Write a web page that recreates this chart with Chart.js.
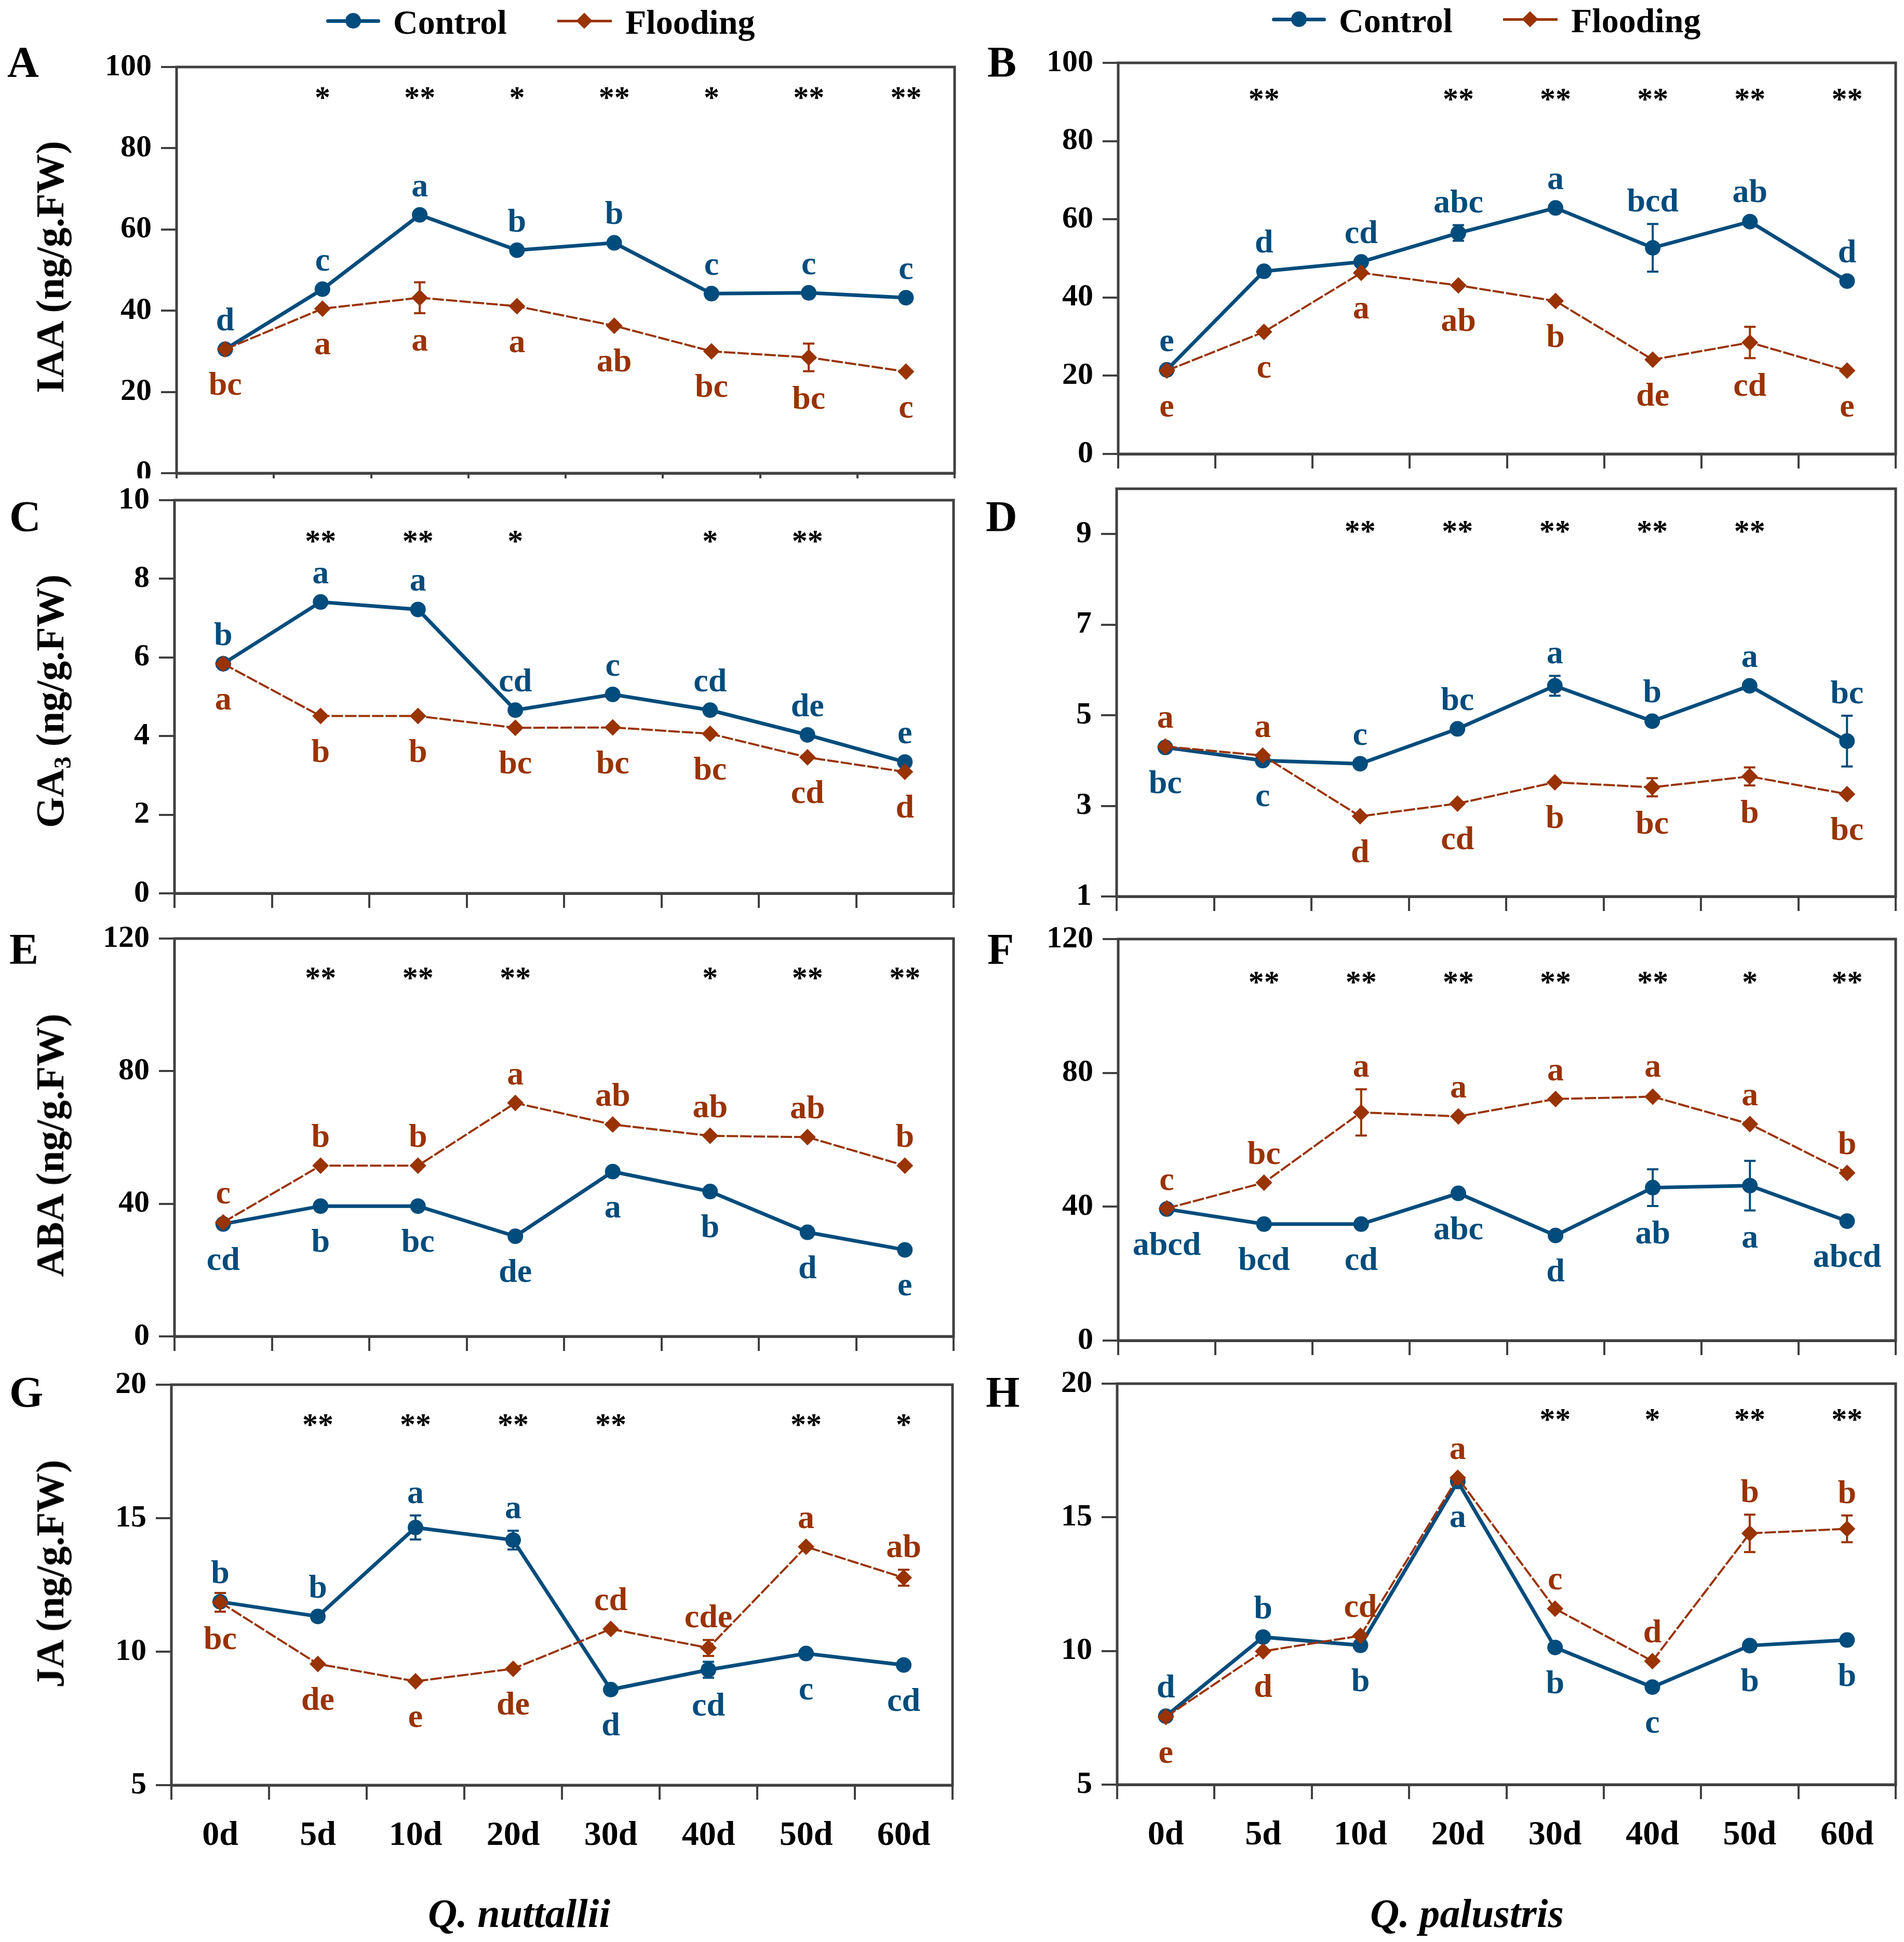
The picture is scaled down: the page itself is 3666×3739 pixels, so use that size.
<!DOCTYPE html>
<html>
<head>
<meta charset="utf-8">
<script src="https://cdn.jsdelivr.net/npm/chart.js@4.4.1/dist/chart.umd.min.js"></script>
<style>
html, body { margin: 0; padding: 0; background: #fff; }
#fig { position: relative; width: 3666px; height: 3739px; overflow: hidden; background: #fff;
       font-family: "Liberation Serif", "Times New Roman", serif; font-weight: bold; color: #000; }
.t { position: absolute; line-height: 1; white-space: nowrap; }
.box { position: absolute; overflow: hidden; }
canvas { display: block; }
</style>
</head>
<body>
<div id="fig"></div>
<script>
// sampling days
var days = ["0d", "5d", "10d", "20d", "30d", "40d", "50d", "60d"];

// A: IAA, Q. nuttallii
var iaaNutCtrl = [30.5, 45.3, 63.6, 54.9, 56.7, 44.2, 44.4, 43.2];
var iaaNutCtrlErr = [0.5, 0.8, 0.8, 0.8, 1.6, 0.6, 0.6, 0.6];
var iaaNutFlood = [30.5, 40.5, 43.2, 41.1, 36.3, 30.0, 28.5, 25.0];
var iaaNutFloodErr = [0.5, 1.2, 3.8, 1.5, 0.6, 0.5, 3.4, 1.2];
var iaaNutCtrlSig = ["d", "c", "a", "b", "b", "c", "c", "c"];
var iaaNutFloodSig = ["bc", "a", "a", "a", "ab", "bc", "bc", "c"];
var iaaNutStars = ["", "*", "**", "*", "**", "*", "**", "**"];

// B: IAA, Q. palustris
var iaaPalCtrl = [21.5, 46.7, 49.1, 56.5, 62.9, 52.7, 59.4, 44.2];
var iaaPalCtrlErr = [0.5, 1.5, 1.5, 2.0, 0.8, 6.1, 1.8, 0.6];
var iaaPalFlood = [21.3, 31.2, 46.3, 43.1, 39.1, 24.1, 28.5, 21.3];
var iaaPalFloodErr = [0.5, 1.0, 0.8, 0.8, 0.6, 0.6, 4.0, 0.5];
var iaaPalCtrlSig = ["e", "d", "cd", "abc", "a", "bcd", "ab", "d"];
var iaaPalFloodSig = ["e", "c", "a", "ab", "b", "de", "cd", "e"];
var iaaPalStars = ["", "**", "", "**", "**", "**", "**", "**"];

// C: GA3, Q. nuttallii
var gaNutCtrl = [5.84, 7.41, 7.22, 4.66, 5.06, 4.66, 4.03, 3.34];
var gaNutCtrlErr = [0.05, 0.05, 0.05, 0.05, 0.1, 0.05, 0.15, 0.1];
var gaNutFlood = [5.84, 4.51, 4.51, 4.21, 4.22, 4.06, 3.46, 3.09];
var gaNutFloodErr = [0.05, 0.05, 0.05, 0.05, 0.1, 0.08, 0.1, 0.15];
var gaNutCtrlSig = ["b", "a", "a", "cd", "c", "cd", "de", "e"];
var gaNutFloodSig = ["a", "b", "b", "bc", "bc", "bc", "cd", "d"];
var gaNutStars = ["", "**", "**", "*", "", "*", "**", ""];

// D: GA3, Q. palustris
var gaPalCtrl = [4.29, 4.0, 3.93, 4.70, 5.65, 4.87, 5.65, 4.43];
var gaPalCtrlErr = [0.1, 0.05, 0.05, 0.08, 0.22, 0.1, 0.12, 0.56];
var gaPalFlood = [4.31, 4.11, 2.77, 3.05, 3.52, 3.41, 3.65, 3.26];
var gaPalFloodErr = [0.12, 0.12, 0.05, 0.05, 0.08, 0.2, 0.2, 0.05];
var gaPalCtrlSig = ["bc", "c", "c", "bc", "a", "b", "a", "bc"];
var gaPalFloodSig = ["a", "a", "d", "cd", "b", "bc", "b", "bc"];
var gaPalStars = ["", "", "**", "**", "**", "**", "**", ""];

// E: ABA, Q. nuttallii
var abaNutCtrl = [33.9, 39.3, 39.3, 30.2, 49.7, 43.7, 31.4, 26.1];
var abaNutCtrlErr = [0.6, 0.6, 0.6, 0.8, 0.6, 0.6, 0.6, 1.5];
var abaNutFlood = [34.4, 51.5, 51.5, 70.4, 63.9, 60.5, 60.1, 51.5];
var abaNutFloodErr = [0.5, 0.6, 0.5, 0.6, 1.5, 0.6, 0.6, 0.8];
var abaNutCtrlSig = ["cd", "b", "bc", "de", "a", "b", "d", "e"];
var abaNutFloodSig = ["c", "b", "b", "a", "ab", "ab", "ab", "b"];
var abaNutStars = ["", "**", "**", "**", "", "*", "**", "**"];

// F: ABA, Q. palustris
var abaPalCtrl = [39.3, 34.8, 34.8, 44.0, 31.4, 45.7, 46.3, 35.7];
var abaPalCtrlErr = [0.6, 0.6, 0.6, 0.8, 0.6, 5.5, 7.4, 0.6];
var abaPalFlood = [39.5, 47.2, 68.2, 67.0, 72.2, 72.9, 64.7, 50.1];
var abaPalFloodErr = [0.5, 0.6, 6.9, 0.8, 1.5, 2.2, 0.8, 1.7];
var abaPalCtrlSig = ["abcd", "bcd", "cd", "abc", "d", "ab", "a", "abcd"];
var abaPalFloodSig = ["c", "bc", "a", "a", "a", "a", "a", "b"];
var abaPalStars = ["", "**", "**", "**", "**", "**", "*", "**"];

// G: JA, Q. nuttallii
var jaNutCtrl = [11.87, 11.32, 14.65, 14.18, 8.58, 9.32, 9.93, 9.5];
var jaNutCtrlErr = [0.1, 0.15, 0.45, 0.35, 0.2, 0.3, 0.2, 0.08];
var jaNutFlood = [11.85, 9.54, 8.89, 9.36, 10.85, 10.14, 13.93, 12.77];
var jaNutFloodErr = [0.35, 0.15, 0.08, 0.1, 0.2, 0.3, 0.15, 0.3];
var jaNutCtrlSig = ["b", "b", "a", "a", "d", "cd", "c", "cd"];
var jaNutFloodSig = ["bc", "de", "e", "de", "cd", "cde", "a", "ab"];
var jaNutStars = ["", "**", "**", "**", "**", "", "**", "*"];

// H: JA, Q. palustris
var jaPalCtrl = [7.56, 10.52, 10.21, 16.34, 10.13, 8.65, 10.2, 10.41];
var jaPalCtrlErr = [0.1, 0.2, 0.1, 0.1, 0.1, 0.2, 0.2, 0.1];
var jaPalFlood = [7.53, 9.99, 10.57, 16.48, 11.58, 9.62, 14.4, 14.57];
var jaPalFloodErr = [0.1, 0.15, 0.2, 0.15, 0.25, 0.1, 0.7, 0.5];
var jaPalCtrlSig = ["d", "b", "b", "a", "b", "c", "b", "b"];
var jaPalFloodSig = ["e", "d", "cd", "a", "c", "d", "b", "b"];
var jaPalStars = ["", "", "", "", "**", "*", "**", "**"];

// y tick labels
var iaaTicks = [0, 20, 40, 60, 80, 100];
var gaNutTicks = [0, 2, 4, 6, 8, 10];
var gaPalTicks = [1, 3, 5, 7, 9];
var abaTicks = [0, 40, 80, 120];
var jaTicks = [5, 10, 15, 20];

var BLUE = "#004c7c";
var BROWN = "#993300";
var AXIS = "#404040";
var SERIF = "Liberation Serif";

var panels = [
    { letter: "A", ctrl: iaaNutCtrl, ctrlErr: iaaNutCtrlErr, flood: iaaNutFlood, floodErr: iaaNutFloodErr,
      ctrlSig: iaaNutCtrlSig, floodSig: iaaNutFloodSig, stars: iaaNutStars, starLevel: 93.5,
      ticks: iaaTicks, min: 0, max: 100,
      plot: { l: 340, t: 129, r: 1838, b: 911 }, box: { x: 0, y: 0, w: 1870, h: 980, clip: 921 },
      letterPos: [14, 148] },
    { letter: "B", ctrl: iaaPalCtrl, ctrlErr: iaaPalCtrlErr, flood: iaaPalFlood, floodErr: iaaPalFloodErr,
      ctrlSig: iaaPalCtrlSig, floodSig: iaaPalFloodSig, stars: iaaPalStars, starLevel: 91.8,
      ticks: iaaTicks, min: 0, max: 100,
      plot: { l: 2153, t: 121, r: 3656, b: 874 }, box: { x: 1870, y: 0, w: 1796, h: 980 },
      letterPos: [1901, 148] },
    { letter: "C", ctrl: gaNutCtrl, ctrlErr: gaNutCtrlErr, flood: gaNutFlood, floodErr: gaNutFloodErr,
      ctrlSig: gaNutCtrlSig, floodSig: gaNutFloodSig, stars: gaNutStars, starLevel: 9.07,
      ticks: gaNutTicks, min: 0, max: 10,
      plot: { l: 336, t: 963, r: 1836, b: 1720 }, box: { x: 0, y: 900, w: 1870, h: 880 },
      letterPos: [18, 1023] },
    { letter: "D", ctrl: gaPalCtrl, ctrlErr: gaPalCtrlErr, flood: gaPalFlood, floodErr: gaPalFloodErr,
      ctrlSig: gaPalCtrlSig, floodSig: gaPalFloodSig, stars: gaPalStars, starLevel: 9.16,
      ticks: gaPalTicks, min: 1, max: 10,
      plot: { l: 2150, t: 941, r: 3654, b: 1726 }, box: { x: 1870, y: 880, w: 1796, h: 900 },
      letterPos: [1898, 1023] },
    { letter: "E", ctrl: abaNutCtrl, ctrlErr: abaNutCtrlErr, flood: abaNutFlood, floodErr: abaNutFloodErr,
      ctrlSig: abaNutCtrlSig, floodSig: abaNutFloodSig, stars: abaNutStars, starLevel: 109.4,
      ticks: abaTicks, min: 0, max: 120,
      plot: { l: 336, t: 1807, r: 1836, b: 2573 }, box: { x: 0, y: 1740, w: 1870, h: 900 },
      letterPos: [18, 1856] },
    { letter: "F", ctrl: abaPalCtrl, ctrlErr: abaPalCtrlErr, flood: abaPalFlood, floodErr: abaPalFloodErr,
      ctrlSig: abaPalCtrlSig, floodSig: abaPalFloodSig, stars: abaPalStars, starLevel: 108.5,
      ticks: abaTicks, min: 0, max: 120,
      plot: { l: 2153, t: 1808, r: 3658, b: 2581 }, box: { x: 1870, y: 1740, w: 1796, h: 900 },
      letterPos: [1901, 1856] },
    { letter: "G", ctrl: jaNutCtrl, ctrlErr: jaNutCtrlErr, flood: jaNutFlood, floodErr: jaNutFloodErr,
      ctrlSig: jaNutCtrlSig, floodSig: jaNutFloodSig, stars: jaNutStars, starLevel: 18.66,
      ticks: jaTicks, min: 5, max: 20,
      plot: { l: 330, t: 2666, r: 1834, b: 3437 }, box: { x: 0, y: 2600, w: 1870, h: 1139 },
      letterPos: [18, 2709], showDays: true },
    { letter: "H", ctrl: jaPalCtrl, ctrlErr: jaPalCtrlErr, flood: jaPalFlood, floodErr: jaPalFloodErr,
      ctrlSig: jaPalCtrlSig, floodSig: jaPalFloodSig, stars: jaPalStars, starLevel: 18.83,
      ticks: jaTicks, min: 5, max: 20,
      plot: { l: 2151, t: 2664, r: 3657, b: 3436 }, box: { x: 1870, y: 2600, w: 1796, h: 1139 },
      letterPos: [1898, 2709], showDays: true },
];

var panelOf = new WeakMap();

// error bars, significance letters, asterisks and the plot frame
var decoPlugin = {
    id: "deco",
    beforeDatasetsDraw: function (chart) {
        var p = panelOf.get(chart.canvas);
        if (!p) return;
        var ctx = chart.ctx, ys = chart.scales.y;
        var series = [[p.ctrl, p.ctrlErr, BLUE, 0], [p.flood, p.floodErr, BROWN, 1]];
        ctx.save();
        ctx.lineWidth = 4;
        series.forEach(function (s) {
            var meta = chart.getDatasetMeta(s[3]);
            ctx.strokeStyle = s[2];
            s[0].forEach(function (v, j) {
                var e = s[1][j];
                var x = meta.data[j].x;
                var top = ys.getPixelForValue(v + e), bot = ys.getPixelForValue(v - e);
                if (bot - top < 30) return;
                ctx.beginPath();
                ctx.moveTo(x, top); ctx.lineTo(x, bot);
                ctx.moveTo(x - 11, top); ctx.lineTo(x + 11, top);
                ctx.moveTo(x - 11, bot); ctx.lineTo(x + 11, bot);
                ctx.stroke();
            });
        });
        ctx.restore();
    },
    afterDatasetsDraw: function (chart) {
        var p = panelOf.get(chart.canvas);
        if (!p) return;
        var ctx = chart.ctx, ys = chart.scales.y, area = chart.chartArea;
        var meta = chart.getDatasetMeta(0);
        ctx.save();
        ctx.textAlign = "center";
        ctx.textBaseline = "alphabetic";
        ctx.font = "bold 64px \"" + SERIF + "\"";
        function sigY(v, e, up) {
            var py = ys.getPixelForValue(v);
            if (up) return Math.min(py - 36, ys.getPixelForValue(v + e) - 24);
            return Math.max(py + 88, ys.getPixelForValue(v - e) + 72);
        }
        p.ctrl.forEach(function (v, j) {
            var x = meta.data[j].x;
            var ctrlUp = v >= p.flood[j];
            ctx.fillStyle = BLUE;
            ctx.fillText(p.ctrlSig[j], x, sigY(v, p.ctrlErr[j], ctrlUp));
            ctx.fillStyle = BROWN;
            ctx.fillText(p.floodSig[j], x, sigY(p.flood[j], p.floodErr[j], !ctrlUp));
        });
        // asterisks
        ctx.font = "bold 60px \"" + SERIF + "\"";
        ctx.fillStyle = "#000";
        var m = ctx.measureText("*");
        var yStar = ys.getPixelForValue(p.starLevel) + (m.actualBoundingBoxAscent - m.actualBoundingBoxDescent) / 2;
        p.stars.forEach(function (s, j) {
            if (s) ctx.fillText(s, meta.data[j].x, yStar);
        });
        // frame
        ctx.strokeStyle = AXIS;
        ctx.lineWidth = 5;
        ctx.strokeRect(area.left, area.top, area.right - area.left, area.bottom - area.top);
        ctx.restore();
    },
};

var fig = document.getElementById("fig");

function addText(html, left, baseline, size, extra) {
    var d = document.createElement("div");
    d.className = "t";
    d.innerHTML = html;
    d.style.fontSize = size + "px";
    d.style.left = left + "px";
    d.style.top = (baseline - 0.8375 * size) + "px";
    if (extra) d.style.cssText += extra;
    fig.appendChild(d);
    return d;
}

function drawPanel(p) {
    var holder = document.createElement("div");
    holder.className = "box";
    holder.style.left = p.box.x + "px";
    holder.style.top = p.box.y + "px";
    holder.style.width = p.box.w + "px";
    holder.style.height = (p.box.clip || p.box.h) + "px";
    var canvas = document.createElement("canvas");
    canvas.width = p.box.w;
    canvas.height = p.box.h;
    canvas.style.width = p.box.w + "px";
    canvas.style.height = p.box.h + "px";
    holder.appendChild(canvas);
    fig.appendChild(holder);
    panelOf.set(canvas, p);

    var yWidth = p.plot.l - p.box.x;
    var xHeight = p.box.y + p.box.h - p.plot.b;
    var tickFont = { family: SERIF, size: 60, weight: "bold" };

    new Chart(canvas.getContext("2d"), {
        type: "line",
        data: {
            labels: days,
            datasets: [
                {
                    label: "Control",
                    data: p.ctrl,
                    borderColor: BLUE,
                    backgroundColor: BLUE,
                    borderWidth: 7,
                    pointStyle: "circle",
                    pointRadius: 15,
                    pointBorderWidth: 0,
                    pointBackgroundColor: BLUE,
                    tension: 0,
                    order: 1,
                },
                {
                    label: "Flooding",
                    data: p.flood,
                    borderColor: BROWN,
                    backgroundColor: BROWN,
                    borderWidth: 4,
                    borderDash: [22, 4],
                    pointStyle: "rectRot",
                    pointRadius: 16,
                    pointBorderWidth: 0,
                    pointBackgroundColor: BROWN,
                    tension: 0,
                    order: 0,
                },
            ],
        },
        options: {
            responsive: false,
            animation: false,
            devicePixelRatio: 1,
            layout: {
                padding: { left: 0, bottom: 0, top: p.plot.t - p.box.y, right: p.box.x + p.box.w - p.plot.r },
            },
            plugins: { legend: { display: false }, tooltip: { enabled: false } },
            scales: {
                x: {
                    type: "category",
                    offset: true,
                    afterFit: function (s) { s.height = xHeight; },
                    grid: { offset: true, drawOnChartArea: false, tickLength: 28, color: AXIS, lineWidth: 4 },
                    border: { display: true, color: AXIS, width: 5 },
                    ticks: {
                        display: !!p.showDays,
                        color: "#000",
                        padding: 30,
                        autoSkip: false,
                        maxRotation: 0,
                        font: { family: SERIF, size: 66, weight: "bold" },
                    },
                },
                y: {
                    min: p.min,
                    max: p.max,
                    afterFit: function (s) { s.width = yWidth; },
                    afterBuildTicks: function (s) {
                        s.ticks = p.ticks.map(function (v) { return { value: v }; });
                    },
                    grid: { drawOnChartArea: false, tickLength: 30, color: AXIS, lineWidth: 4 },
                    border: { display: true, color: AXIS, width: 4 },
                    ticks: { color: "#000", padding: 18, font: tickFont },
                },
            },
        },
        plugins: [decoPlugin],
    });

    addText(p.letter, p.letterPos[0], p.letterPos[1], 84);
}

panels.forEach(drawPanel);

// y axis titles (left column only)
function addYTitle(html, cy) {
    var d = document.createElement("div");
    d.className = "t";
    d.innerHTML = html;
    d.style.fontSize = "76px";
    d.style.left = "96px";
    d.style.top = cy + "px";
    d.style.transform = "translate(-50%, -50%) rotate(-90deg)";
    fig.appendChild(d);
}
addYTitle("IAA (ng/g.FW)", 514);
addYTitle("GA<span style=\"font-size:0.62em;position:relative;top:0.3em\">3</span> (ng/g.FW)", 1350);
addYTitle("ABA (ng/g.FW)", 2205);
addYTitle("JA (ng/g.FW)", 3030);

// legends
function addLegend(x0, lineY, baseY) {
    var c = document.createElement("div");
    c.style.cssText = "position:absolute;left:" + x0 + "px;top:" + (lineY - 3) + "px;width:104px;height:7px;border-radius:4px;background:" + BLUE;
    fig.appendChild(c);
    var dot = document.createElement("div");
    dot.style.cssText = "position:absolute;left:" + (x0 + 37) + "px;top:" + (lineY - 15) + "px;width:30px;height:30px;border-radius:50%;background:" + BLUE;
    fig.appendChild(dot);
    addText("Control", x0 + 129, baseY, 66);

    var fx = x0 + 445;
    var f = document.createElement("div");
    f.style.cssText = "position:absolute;left:" + fx + "px;top:" + (lineY - 2) + "px;width:105px;height:5px;background:" + BROWN;
    fig.appendChild(f);
    var dia = document.createElement("div");
    dia.style.cssText = "position:absolute;left:" + (fx + 41) + "px;top:" + (lineY - 11) + "px;width:22px;height:22px;transform:rotate(45deg);background:" + BROWN;
    fig.appendChild(dia);
    addText("Flooding", fx + 131, baseY, 66);
}
addLegend(628, 40, 65);
addLegend(2449, 37, 62);

// species names
addText("Q. nuttallii", 824, 3710, 78, "font-style:italic;");
addText("Q. palustris", 2638, 3710, 78, "font-style:italic;");
</script>
</body>
</html>
